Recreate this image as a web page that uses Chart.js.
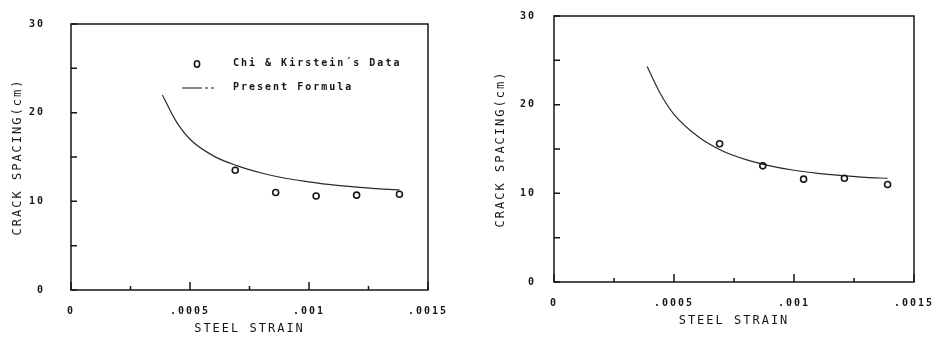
<!DOCTYPE html>
<html>
<head>
<meta charset="utf-8">
<script src="https://cdn.jsdelivr.net/npm/chart.js@4/dist/chart.umd.min.js"></script>
<style>
  html, body { margin: 0; padding: 0; background: #fff; }
  #wrap { position: relative; width: 945px; height: 337px; }
  canvas { position: absolute; top: 0; }
  #leftChart { left: 0; }
  #rightChart { left: 472px; }
</style>
</head>
<body>
<div id="wrap">
  <canvas id="leftChart" width="472" height="337"></canvas>
  <canvas id="rightChart" width="473" height="337"></canvas>
</div>
<script>
// Данные
const xTickValues = [0, 0.0005, 0.001, 0.0015];
const xTickLabels = ['0', '.0005', '.001', '.0015'];
const xMinorTicks = [0.00025, 0.00075, 0.00125];
const yTickValues = [0, 10, 20, 30];
const yTickLabels = ['0', '10', '20', '30'];
const yMinorTicks = [5, 15, 25];

// левый график
const leftDataStrain = [0.00069, 0.00086, 0.00103, 0.0012, 0.00138];
const leftDataSpacing = [13.5, 11.0, 10.6, 10.7, 10.8];
const leftCurveStrain = [0.000384, 0.00044, 0.0005, 0.0006, 0.0007, 0.0008, 0.0009, 0.001, 0.0011, 0.0012, 0.0013, 0.00138];
const leftCurveSpacing = [22.0, 19.1, 17.0, 15.1, 14.0, 13.2, 12.6, 12.2, 11.85, 11.6, 11.4, 11.3];

// правый график
const rightDataStrain = [0.00069, 0.00087, 0.00104, 0.00121, 0.00139];
const rightDataSpacing = [15.6, 13.1, 11.6, 11.7, 11.0];
const rightCurveStrain = [0.000388, 0.00044, 0.0005, 0.0006, 0.0007, 0.0008, 0.0009, 0.001, 0.0011, 0.0012, 0.0013, 0.00139];
const rightCurveSpacing = [24.3, 21.4, 18.9, 16.4, 14.8, 13.8, 13.1, 12.6, 12.25, 12.0, 11.8, 11.7];

const legendLabels = ['Chi & Kirstein\u00b4s Data', 'Present Formula'];

const FONT = "'DejaVu Sans Mono', monospace";
const INK = '#161616';

function toPoints(xs, ys) {
    return xs.map((x, i) => ({ x: x, y: ys[i] }));
}

// рамка, внутренние засечки и легенда
const framePlugin = {
    id: 'frame',
    beforeDraw(chart) {
        chart.ctx.letterSpacing = '2px';
    },
    afterDraw(chart, args, opts) {
        const ctx = chart.ctx;
        const a = chart.chartArea;
        const xs = chart.scales.x, ys = chart.scales.y;
        ctx.save();
        ctx.strokeStyle = INK;
        ctx.lineWidth = 1.5;
        ctx.strokeRect(a.left, a.top, a.right - a.left, a.bottom - a.top);
        ctx.beginPath();
        xTickValues.forEach(v => {
            const px = xs.getPixelForValue(v);
            ctx.moveTo(px, a.bottom); ctx.lineTo(px, a.bottom - 8);
        });
        xMinorTicks.forEach(v => {
            const px = xs.getPixelForValue(v);
            ctx.moveTo(px, a.bottom); ctx.lineTo(px, a.bottom - 4);
        });
        yTickValues.concat(yMinorTicks).forEach(v => {
            const py = ys.getPixelForValue(v);
            ctx.moveTo(a.left, py); ctx.lineTo(a.left + 6, py);
        });
        ctx.stroke();

        if (opts.legend) {
            ctx.fillStyle = INK;
            ctx.font = 'bold 10px ' + FONT;
            ctx.letterSpacing = '2px';
            ctx.textBaseline = 'middle';
            ctx.textAlign = 'left';
            // маркер
            ctx.lineWidth = 1.6;
            ctx.beginPath();
            ctx.ellipse(197, 64, 2.6, 3.2, 0, 0, Math.PI * 2);
            ctx.stroke();
            ctx.fillText(legendLabels[0], 233, 63);
            // линия
            ctx.lineWidth = 1.2;
            ctx.setLineDash([20, 3, 3, 3, 3, 3]);
            ctx.beginPath();
            ctx.moveTo(182, 88); ctx.lineTo(215, 88);
            ctx.stroke();
            ctx.setLineDash([]);
            ctx.fillText(legendLabels[1], 233, 87);
        }
        ctx.restore();
    }
};

function makeChart(id, dataPts, curvePts, lay) {
    const ctx = document.getElementById(id).getContext('2d');
    return new Chart(ctx, {
        type: 'scatter',
        data: {
            datasets: [{
                label: legendLabels[0],
                data: dataPts,
                order: 0,
                pointStyle: 'circle',
                pointRadius: 3,
                pointBorderWidth: 1.6,
                pointBorderColor: INK,
                pointBackgroundColor: 'rgba(0,0,0,0)'
            }, {
                type: 'line',
                label: legendLabels[1],
                data: curvePts,
                order: 1,
                borderColor: '#2a2a2a',
                borderWidth: 1.2,
                pointRadius: 0,
                cubicInterpolationMode: 'monotone',
                fill: false
            }]
        },
        options: {
            responsive: false,
            animation: false,
            events: [],
            layout: { padding: { left: 0, right: lay.padRight, top: lay.padTop, bottom: 0 } },
            plugins: {
                legend: { display: false },
                tooltip: { enabled: false },
                frame: { legend: lay.legend }
            },
            scales: {
                x: {
                    type: 'linear',
                    min: 0,
                    max: 0.0015,
                    grid: { display: false },
                    border: { display: false },
                    afterBuildTicks: function(scale) {
                        scale.ticks = xTickValues.map(v => ({ value: v }));
                    },
                    afterFit: function(scale) { scale.height = lay.xHeight; },
                    ticks: {
                        autoSkip: false,
                        maxRotation: 0,
                        padding: 7,
                        color: INK,
                        font: { family: FONT, size: 10, weight: 'bold' },
                        callback: function(value, index) { return xTickLabels[index]; }
                    },
                    title: {
                        display: true,
                        text: 'STEEL STRAIN',
                        color: INK,
                        font: { family: FONT, size: 12 },
                        padding: { top: 0, bottom: lay.xTitlePad }
                    }
                },
                y: {
                    min: 0,
                    max: 30,
                    grid: { display: false },
                    border: { display: false },
                    afterBuildTicks: function(scale) {
                        scale.ticks = yTickValues.map(v => ({ value: v }));
                    },
                    afterFit: function(scale) { scale.width = lay.yWidth; },
                    ticks: {
                        autoSkip: false,
                        padding: lay.yTickPad,
                        color: INK,
                        font: { family: FONT, size: 10, weight: 'bold' },
                        callback: function(value, index) { return yTickLabels[index]; }
                    },
                    title: {
                        display: true,
                        text: 'CRACK SPACING(cm)',
                        color: INK,
                        font: { family: FONT, size: 12 },
                        padding: { top: lay.yTitlePad, bottom: 0 }
                    }
                }
            }
        },
        plugins: [framePlugin]
    });
}

makeChart('leftChart',
    toPoints(leftDataStrain, leftDataSpacing),
    toPoints(leftCurveStrain, leftCurveSpacing),
    { padRight: 44, padTop: 24, xHeight: 47, yWidth: 71, yTickPad: 18, xTitlePad: 1, yTitlePad: 11, legend: true });

makeChart('rightChart',
    toPoints(rightDataStrain, rightDataSpacing),
    toPoints(rightCurveStrain, rightCurveSpacing),
    { padRight: 31, padTop: 14, xHeight: 55, yWidth: 82, yTickPad: 10, xTitlePad: 9, yTitlePad: 22, legend: false });
</script>
</body>
</html>
